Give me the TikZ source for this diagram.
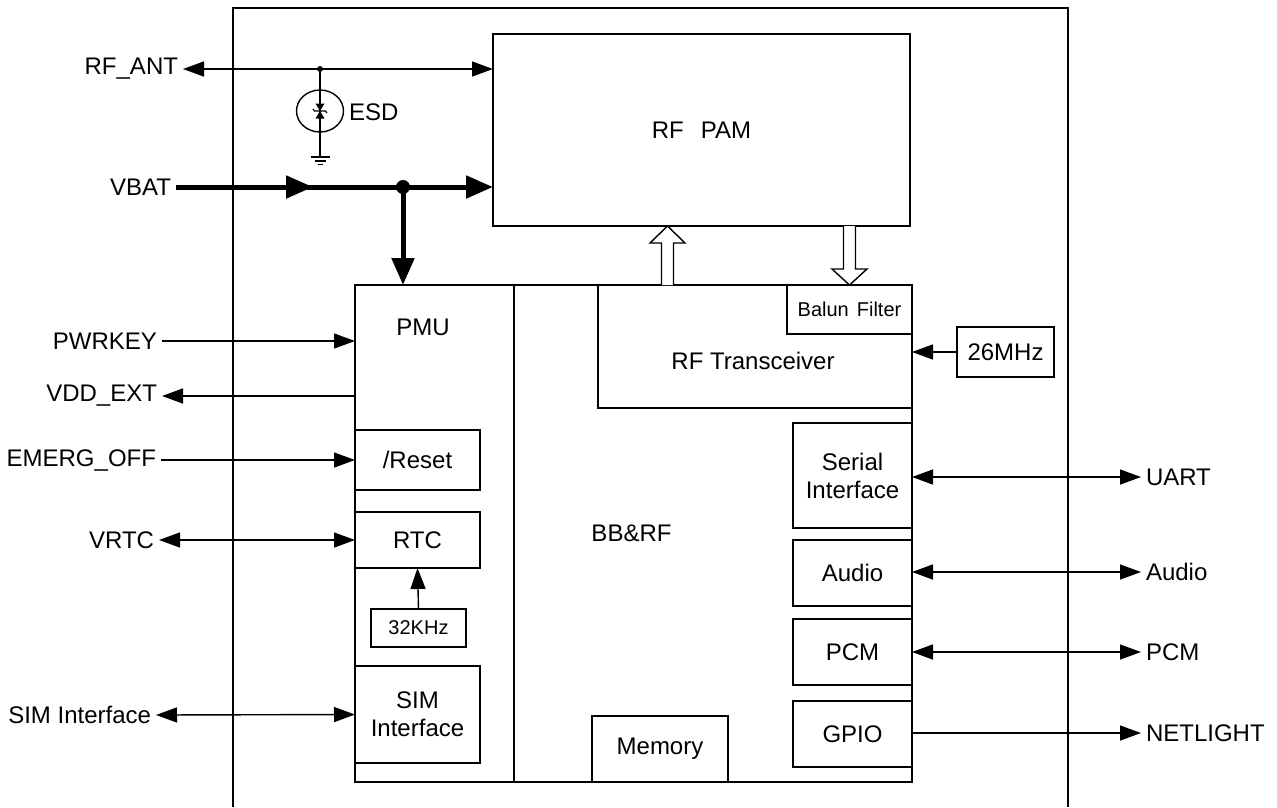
\documentclass[tikz,border=0pt]{standalone}
\usepackage{fontspec}
\setmainfont{Liberation Sans}
\usepackage{tikz}
\usetikzlibrary{arrows.meta,shapes,calc,positioning}
\tikzstyle{blk}=[draw, rectangle, line width=1.4pt, inner sep=0pt,
                 outer sep=0pt, align=center,
                 font=\fontsize{24}{28}\selectfont]
\tikzstyle{sblk}=[blk, font=\fontsize{20}{24}\selectfont]
\tikzstyle{txt}=[inner sep=0pt, outer sep=0pt,
                 font=\fontsize{24}{28}\selectfont]
\tikzstyle{pin}=[inner ysep=0pt, inner xsep=5pt, outer sep=0pt,
                 font=\fontsize{24}{28}\selectfont]
\tikzstyle{sig}=[line width=1.4pt,
                 -{Triangle[length=21pt,width=15pt]}]
\tikzstyle{bsig}=[line width=1.4pt,
                 {Triangle[length=21pt,width=15pt]}-{Triangle[length=21pt,width=15pt]}]
\tikzstyle{pwr}=[line width=5pt,
                 -{Triangle[length=27pt,width=22pt]}]
\tikzstyle{hollow}=[draw, fill=white, line width=1.4pt, line join=miter]

\begin{document}
\begin{tikzpicture}[x=1pt,y=-1pt]
    \useasboundingbox (0,0) rectangle (1277,807);
    \draw[line width=1.4pt] (233,807) |- (1068,8) -- (1068,807);

    \draw (701.5,130) node(pam)[blk,minimum width=417pt,minimum height=192pt]{RF\hspace{17pt}PAM};
    \draw (633.5,533.5) node(chip)[blk,minimum width=557pt,minimum height=497pt]{};
    \draw[line width=1.4pt] (514,0 |- chip.north) -- (514,0 |- chip.south);
    \draw (423,327) node(pmu)[txt]{PMU};
    \draw (631.5,533) node(bbrf)[txt]{BB\&RF};

    \draw (417.5,460) node(reset)[blk,minimum width=125pt,minimum height=60pt]{/Reset};
    \draw (417.5,540) node(rtc)[blk,minimum width=125pt,minimum height=56pt]{RTC};
    \draw (418.5,628) node(osc32)[sblk,minimum width=95pt,minimum height=38pt]{32KHz};
    \draw (417.5,714.5) node(sim)[blk,minimum width=125pt,minimum height=97pt]{SIM\\Interface};

    \draw (755,346.5) node(trx)[blk,minimum width=314pt,minimum height=123pt]{};
    \draw (753,361) node(trxtxt)[txt]{RF Transceiver};
    \draw (849.5,309.5) node(balun)[sblk,minimum width=125pt,minimum height=49pt]{Balun\hspace{8pt}Filter};
    \draw (1005.5,352) node(osc26)[blk,minimum width=97pt,minimum height=50pt]{26MHz};
    \draw (852.5,475.5) node(serial)[blk,minimum width=119pt,minimum height=105pt]{Serial\\Interface};
    \draw (852.5,573) node(audio)[blk,minimum width=119pt,minimum height=66pt]{Audio};
    \draw (852.5,652) node(pcm)[blk,minimum width=119pt,minimum height=66pt]{PCM};
    \draw (852.5,734) node(gpio)[blk,minimum width=119pt,minimum height=66pt]{GPIO};
    \draw (660,749) node(mem)[blk,minimum width=136pt,minimum height=66pt]{Memory};

    \draw (183,69) node(rfant)[pin,anchor=east]{RF\_ANT};
    \draw (176,187) node(vbat)[pin,anchor=east]{VBAT};
    \draw (162,341) node(pwrkey)[pin,anchor=east]{PWRKEY};
    \draw (162,396) node(vddext)[pin,anchor=east]{VDD\_EXT};
    \draw (161,460) node(emerg)[pin,anchor=east]{EMERG\_OFF};
    \draw (159,540) node(vrtc)[pin,anchor=east]{VRTC};
    \draw (156,715) node(simpin)[pin,anchor=east]{SIM Interface};
    \draw (1141,477) node(uart)[pin,anchor=west]{UART};
    \draw (1141,572) node(audiopin)[pin,anchor=west]{Audio};
    \draw (1141,652) node(pcmpin)[pin,anchor=west]{PCM};
    \draw (1141,733) node(netlight)[pin,anchor=west]{NETLIGHT};

    \draw[bsig] (rfant.east) -- (rfant.east -| pam.west);
    \coordinate (tap) at (320,69);
    \coordinate (gnd) at (320,157);
    \fill (tap) circle (3);
    \draw (320,111) node(tvs)[ellipse,draw,line width=1.4pt,minimum width=47pt,minimum height=42pt,inner sep=0pt]{};
    \draw (349,112) node(esd)[txt,anchor=west]{ESD};
    \draw[line width=1.4pt] (tap) -- (gnd);
    \fill (315.5,103.5) -- (324.5,103.5) -- (320,111) -- cycle;
    \fill (315.5,118.5) -- (324.5,118.5) -- (320,111) -- cycle;
    \draw[line width=1.2pt] (313,109) -- (314.5,111) -- (325.5,111) -- (327,113);
    \draw[line width=1.4pt] (310.5,157) -- (329.5,157) (314.5,161) -- (325.5,161) (317.5,164.5) -- (322.5,164.5);

    \coordinate (vmid) at (313,187);
    \coordinate (vtap) at (403,187);
    \draw[line width=5pt,line cap=round,shorten <=4pt] (vbat.east) -- (vtap);
    \draw[pwr] (vbat.east) -- (vmid);
    \draw[pwr] (vtap) -- (vtap -| pam.west);
    \draw[pwr] (vtap) -- (vtap |- chip.north);
    \fill (vtap) circle (7);

    \draw[sig] (pwrkey.east) -- (pwrkey.east -| chip.west);
    \draw[sig] (vddext.east -| chip.west) -- (vddext.east);
    \draw[sig] (emerg.east) -- (reset.west);
    \draw[bsig] (vrtc.east) -- (rtc.west);
    \draw[bsig] (simpin.east) -- (sim.west);
    \draw[sig] (osc32.north) -- (rtc.south);
    \draw[sig] (osc26.west) -- (osc26.west -| chip.east);

    \foreach \i/\j in {serial/uart,audio/audiopin,pcm/pcmpin}
        \draw[bsig] (\i.east |- \j.west) -- (\j.west);
    \draw[sig] (gpio.east |- netlight.west) -- (netlight.west);

    \draw[hollow] (661.5,285) -- (661.5,243) -- (650,243) -- (667.5,226) -- (685,243) -- (673.5,243) -- (673.5,285);
    \draw[hollow] (843.5,226) -- (843.5,269) -- (832,269) -- (849.5,285) -- (867,269) -- (855.5,269) -- (855.5,226);
\end{tikzpicture}
\end{document}
